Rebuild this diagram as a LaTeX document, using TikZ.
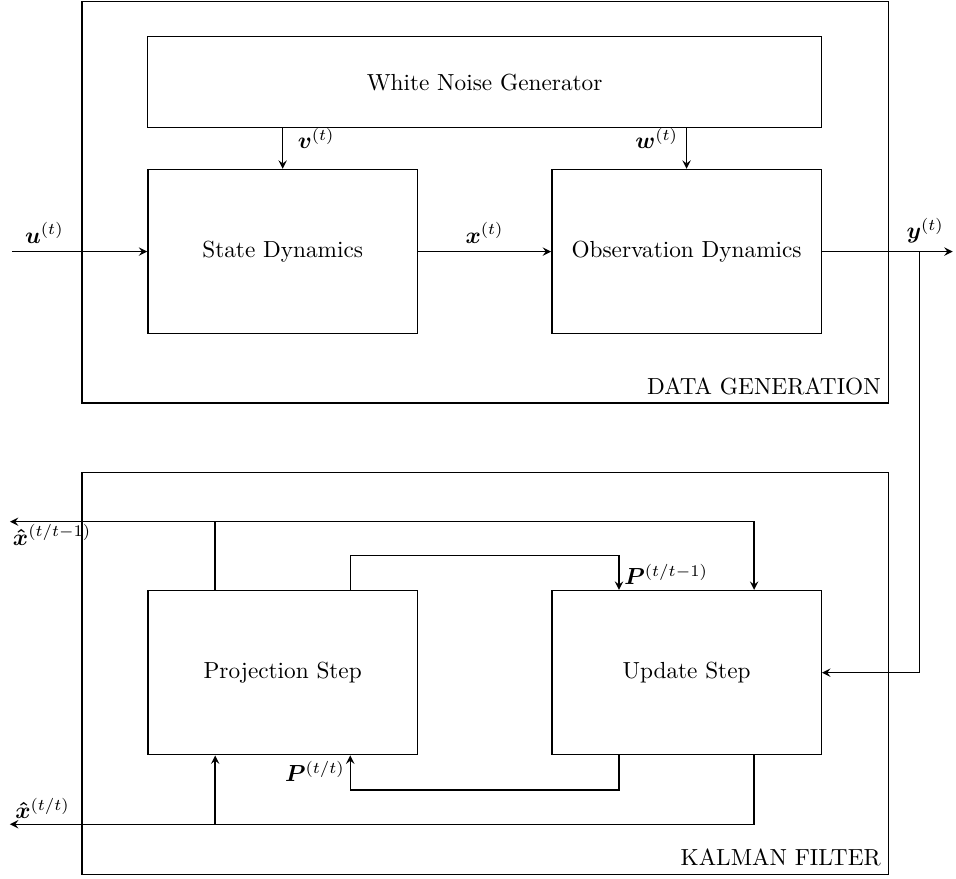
\documentclass[tikz,border=0pt]{standalone}
\usepackage{amsmath,bm}
\tikzset{
  block/.style={draw, minimum width=4.07cm, minimum height=2.48cm},
  frame/.style={draw, minimum width=12.18cm, minimum height=6.07cm},
}
\begin{document}
\begin{tikzpicture}[>=stealth, semithick]
\useasboundingbox (0,0) rectangle (14.44,13.27);
% outer frames
\node[frame] (dg) at (7.33,10.215) {};
\node[frame] (kf) at (7.33,3.10) {};
\node[anchor=south east] at (dg.south east) {DATA GENERATION};
\node[anchor=south east] at (kf.south east) {KALMAN FILTER};
% blocks
\node[draw, minimum width=10.18cm, minimum height=1.37cm] (wng) at (7.32,12.03) {White Noise Generator};
\node[block] (sd) at (4.27,9.47) {State Dynamics};
\node[block] (od) at (10.37,9.47) {Observation Dynamics};
\node[block] (ps) at (4.27,3.11) {Projection Step};
\node[block] (us) at (10.37,3.11) {Update Step};
% free ends
\coordinate (uin) at (0.18,9.47);
\coordinate (yout) at (14.39,9.47);
\coordinate (ybr) at (13.89,9.47);
\coordinate (xpout) at (0.15,5.39);
\coordinate (xfout) at (0.15,0.82);
% data generation
\draw[->] (uin) -- node[above,pos=.24]{$\bm{u}^{(t)}$} (sd);
\draw[->] (sd) -- node[above]{$\bm{x}^{(t)}$} (od);
\draw[->] (od) -- node[above,pos=.79]{$\bm{y}^{(t)}$} (yout);
\draw[->] (ybr) |- (us);
\draw[->] (wng.south -| sd) -- node[right,pos=.25,xshift=.1cm]{$\bm{v}^{(t)}$} (sd);
\draw[->] (wng.south -| od) -- node[left,pos=.25]{$\bm{w}^{(t)}$} (od);
% kalman filter
\draw[<->] (xpout) node[anchor=north west, inner sep=1pt]{$\bm{\hat{x}}^{(t/t-1)}$} -| ([xshift=1.02cm]us.north);
\draw ([xshift=-1.02cm]ps.north) -- ([xshift=-1.02cm]ps.north |- xpout);
\draw[->] ([xshift=1.02cm]ps.north) -- ++(0,0.52) -| node[pos=1, anchor=south west, inner sep=2pt]{$\bm{P}^{(t/t-1)}$} ([xshift=-1.02cm]us.north);
\draw[->] ([xshift=-1.02cm]us.south) -- ++(0,-0.52) -| node[pos=1, anchor=north east, inner sep=2pt]{$\bm{P}^{(t/t)}$} ([xshift=1.02cm]ps.south);
\draw[->] ([xshift=1.02cm]us.south) |- (xfout) node[anchor=south west, inner sep=2pt]{$\bm{\hat{x}}^{(t/t)}$};
\draw[->] ([xshift=-1.02cm]ps.south |- xfout) -- ([xshift=-1.02cm]ps.south);
\end{tikzpicture}
\end{document}
